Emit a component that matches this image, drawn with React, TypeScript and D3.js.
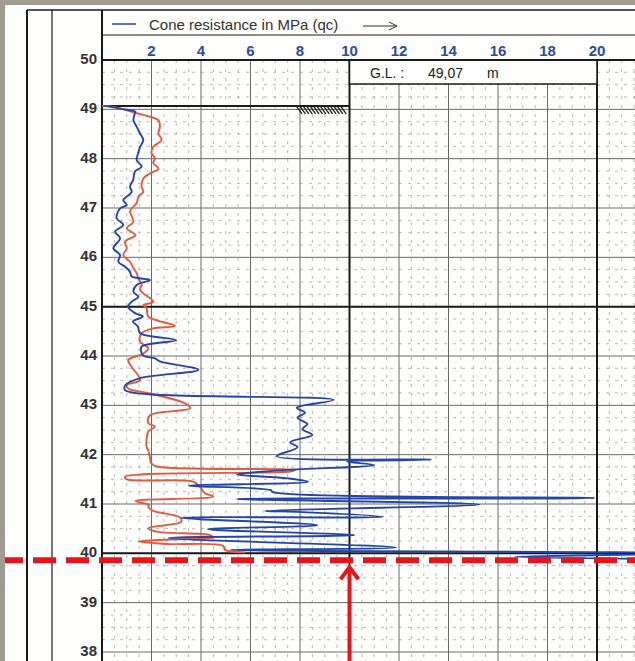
import React from "react";
import * as d3 from "d3";

// ---- data ----
const xTickValues = [2, 4, 6, 8, 10, 12, 14, 16, 18, 20];
const yTickValues = [50, 49, 48, 47, 46, 45, 44, 43, 42, 41, 40, 39, 38];
const legendLabel = "Cone resistance in MPa (qc)";
const groundLevelLabel = "G.L. :";
const groundLevelValue = "49,07";
const groundLevelUnit = "m";
const groundLevel = 49.07;
const markerDepth = 39.86;
const markerValue = 10;

// cone resistance qc (blue)
const blueDepth = [
  49.07, 49.0, 48.95, 48.92, 48.78, 48.65, 48.51, 48.38, 48.24, 48.11, 47.97, 47.84, 47.74, 47.57, 47.43,
  47.33, 47.23, 47.16, 47.06, 46.99, 46.79, 46.66, 46.52, 46.39, 46.18, 46.05, 45.91, 45.81, 45.71, 45.61,
  45.54, 45.44, 45.3, 45.2, 45.1, 45.0, 44.87, 44.8, 44.7, 44.6, 44.46, 44.32, 44.19, 44.02, 43.95,
  43.89, 43.72, 43.55, 43.41, 43.31, 43.11, 42.95, 42.85, 42.75, 42.62, 42.52, 42.4, 42.25, 42.15, 41.97,
  41.9, 41.86, 41.79, 41.7, 41.66, 41.6, 41.52, 41.45, 41.37, 41.28, 41.24, 41.12, 41.1, 40.99, 40.86,
  40.84, 40.74, 40.72, 40.57, 40.49, 40.37, 40.31, 40.12, 40.07, 40.0, 39.93, 39.88,
];
const blueQc = [
  0.1, 0.9, 1.35, 1.33, 1.27, 1.4, 1.54, 1.67, 1.54, 1.46, 1.4, 1.6, 1.33, 1.26, 1.13,
  1.2, 1.0, 0.86, 1.0, 0.73, 0.59, 0.86, 0.53, 0.73, 0.46, 0.73, 0.66, 0.93, 1.13, 1.2,
  1.94, 1.4, 1.27, 1.47, 1.2, 1.05, 1.33, 1.65, 1.25, 1.45, 1.54, 3.0, 1.6, 1.65, 2.14,
  2.34, 3.89, 1.54, 0.95, 0.93, 9.35, 7.87, 8.2, 7.9, 8.3, 8.1, 8.5, 7.6, 7.9, 7.06,
  13.3, 9.9, 11.0, 7.8, 6.6, 5.45, 7.5, 8.33, 3.5, 6.82, 6.9, 19.9, 5.45, 15.25, 6.59,
  7.9, 11.35, 3.2, 8.7, 4.28, 10.2, 2.7, 11.87, 5.2, 24, 16.7, 24,
];

// second trace (red)
const redDepth = [
  49.07, 49.05, 48.92, 48.85, 48.78, 48.65, 48.51, 48.38, 48.24, 48.11, 48.01, 47.91, 47.8, 47.7, 47.6,
  47.43, 47.33, 47.23, 47.1, 46.99, 46.93, 46.72, 46.59, 46.45, 46.32, 46.18, 46.05, 45.91, 45.78, 45.68,
  45.57, 45.44, 45.34, 45.1, 45.03, 44.97, 44.8, 44.61, 44.56, 44.46, 44.29, 44.16, 44.05, 43.92, 43.78,
  43.51, 43.41, 43.34, 43.24, 43.04, 42.94, 42.8, 42.64, 42.57, 42.47, 42.3, 42.16, 42.09, 41.93, 41.82,
  41.76, 41.69, 41.66, 41.55, 41.5, 41.45, 41.35, 41.22, 41.15, 41.06, 40.98, 40.94, 40.86, 40.73, 40.64,
  40.51, 40.44, 40.37, 40.32, 40.28, 40.24, 40.19, 40.15, 40.07, 40.02,
];
const redValue = [
  0.0, 0.46, 1.4, 1.94, 2.28, 2.34, 2.28, 2.41, 2.07, 2.0, 2.14, 2.07, 2.28, 1.94, 1.67,
  1.6, 1.67, 1.47, 1.4, 1.2, 1.13, 1.27, 1.0, 1.35, 0.93, 1.0, 0.86, 1.13, 1.27, 1.4,
  1.47, 1.6, 1.54, 2.07, 1.67, 1.8, 1.87, 2.95, 2.07, 1.6, 1.54, 1.87, 1.67, 1.06, 1.2,
  1.54, 1.0, 1.06, 1.94, 3.35, 3.56, 1.94, 1.87, 2.14, 1.87, 1.8, 1.8, 1.87, 1.94, 2.0,
  2.2, 7.8, 7.6, 0.93, 1.0, 3.7, 3.96, 4.16, 4.5, 1.35, 1.9, 1.87, 2.07, 3.15, 3.2,
  1.87, 2.2, 4.36, 4.5, 2.75, 1.47, 2.6, 4.9, 4.97, 5.8,
];

const W = 635;
const H = 661;
const LEFT = 102;
const TOP = 60;

const x = d3.scaleLinear().domain([0, 20]).range([LEFT, 597]);
const y = d3.scaleLinear().domain([50, 38]).range([TOP, 652]);

const xMax = x.invert(W);
const yMin = y.invert(H);

const minorX = d3.range(0.5, xMax, 0.5).filter((v) => Math.abs(v / 2 - Math.round(v / 2)) > 1e-6);
const majorX = d3.range(2, xMax, 2);
const minorY = d3.range(50, yMin, -0.25).filter((v) => Math.abs(v - Math.round(v)) > 1e-6);
const majorY = d3.range(49, yMin, -1);

const zip = (a: number[], b: number[]) => a.map((d, i) => [d, b[i]] as [number, number]);
const line = d3
  .line<[number, number]>()
  .x((d) => x(d[1]))
  .y((d) => y(d[0]))
  .curve(d3.curveCatmullRom.alpha(0.5));

export default function App() {
  const font = "'Liberation Sans', Arial, sans-serif";
  const glY = y(groundLevel);
  const gray = "#a09c92";
  return (
    <svg
      width={W}
      height={H}
      style={{ position: "absolute", left: 0, top: 0, background: "#fff" }}
      fontFamily={font}
    >
      <rect x={0} y={0} width={W} height={H} fill="#fdfdfc" />
      {/* grid: minor */}
      <g stroke="#a8a8a8" strokeWidth={0.8} strokeDasharray="3 6">
        {minorX.map((v) => (
          <line key={"mx" + v} x1={x(v)} x2={x(v)} y1={TOP} y2={H} />
        ))}
        {minorY.map((v) => (
          <line key={"my" + v} x1={LEFT} x2={W} y1={y(v)} y2={y(v)} />
        ))}
      </g>
      {/* grid: major */}
      <g stroke="#6a6a6a" strokeWidth={1}>
        {majorX.map((v) => (
          <line key={"Mx" + v} x1={x(v)} x2={x(v)} y1={TOP} y2={H} />
        ))}
        {majorY.map((v) => (
          <line key={"My" + v} x1={LEFT} x2={W} y1={y(v)} y2={y(v)} />
        ))}
      </g>
      <g stroke="#1a1a1a" strokeWidth={2}>
        {[10, 20].map((v) => (
          <line key={"Tx" + v} x1={x(v)} x2={x(v)} y1={TOP} y2={H} />
        ))}
        {[45, 40].map((v) => (
          <line key={"Ty" + v} x1={LEFT} x2={W} y1={y(v)} y2={y(v)} />
        ))}
      </g>

      {/* G.L. box */}
      <rect x={x(10)} y={TOP} width={x(20) - x(10)} height={24} fill="#fdfdfc" stroke="#1a1a1a" strokeWidth={1.5} />
      <text x={370} y={78} fontSize={14} fill="#222">{groundLevelLabel}</text>
      <text x={428} y={78} fontSize={14} fill="#222">{groundLevelValue}</text>
      <text x={487} y={78} fontSize={14} fill="#222">{groundLevelUnit}</text>

      {/* frame */}
      <g stroke="#1a1a1a" fill="none">
        <line x1={27} x2={27} y1={10} y2={H} strokeWidth={2} />
        <line x1={52} x2={52} y1={10} y2={H} strokeWidth={1.2} />
        <line x1={LEFT} x2={LEFT} y1={10} y2={H} strokeWidth={2} />
        <line x1={27} x2={W} y1={10} y2={10} strokeWidth={1.5} />
        <line x1={LEFT} x2={W} y1={35} y2={35} strokeWidth={1} />
        <line x1={LEFT} x2={W} y1={TOP} y2={TOP} strokeWidth={2} />
      </g>

      {/* legend */}
      <line x1={112} x2={136} y1={24} y2={24} stroke="#2446a8" strokeWidth={1.5} />
      <text x={149} y={30} fontSize={15} fill="#333">{legendLabel}</text>
      <g stroke="#333" strokeWidth={1} fill="none">
        <line x1={363} x2={396} y1={26} y2={26} />
        <path d="M389,22 L397,26 L389,30" />
      </g>

      {/* tick labels */}
      <g fontSize={15} fontWeight="bold" fill="#2b4ca5" textAnchor="middle">
        {xTickValues.map((v) => (
          <text key={"xt" + v} x={x(v)} y={56}>{v}</text>
        ))}
      </g>
      <g fontSize={15} fontWeight="bold" fill="#333" textAnchor="end">
        {yTickValues.map((v) => (
          <text key={"yt" + v} x={97} y={y(v) + 4}>{v}</text>
        ))}
      </g>

      {/* ground level line and hatch */}
      <line x1={LEFT} x2={x(10)} y1={glY} y2={glY} stroke="#1a1a1a" strokeWidth={2} />
      <g stroke="#222" strokeWidth={1.4}>
        {d3.range(0, 14).map((i) => (
          <line key={"h" + i} x1={297 + i * 3.4} y1={glY + 1} x2={302 + i * 3.4} y2={glY + 8} />
        ))}
      </g>

      {/* traces */}
      <path d={line(zip(redDepth, redValue)) || ""} fill="none" stroke="#e45a3c" strokeWidth={1.9} strokeLinejoin="round" />
      <path d={line(zip(blueDepth, blueQc)) || ""} fill="none" stroke="#2446a8" strokeWidth={1.9} strokeLinejoin="round" />

      {/* red marker */}
      <line x1={0} x2={W} y1={y(markerDepth)} y2={y(markerDepth)} stroke="#e8141b" strokeWidth={6} strokeDasharray="23 10" />
      <line x1={x(markerValue)} x2={x(markerValue)} y1={y(markerDepth) + 8} y2={H} stroke="#e8141b" strokeWidth={4} />
      <path
        d={`M${x(markerValue) - 9},${y(markerDepth) + 19} L${x(markerValue)},${y(markerDepth) + 7} L${x(markerValue) + 9},${y(markerDepth) + 19}`}
        fill="none"
        stroke="#e8141b"
        strokeWidth={4}
      />

      {/* scan border */}
      <rect x={0} y={0} width={W} height={5} fill={gray} />
      <rect x={0} y={0} width={5} height={H} fill={gray} />
    </svg>
  );
}
